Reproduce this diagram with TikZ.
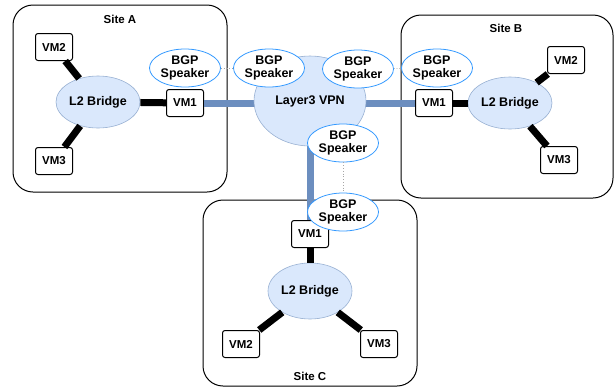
\documentclass[tikz,border=0pt]{standalone}
\usepackage{fontspec}
\setmainfont{Liberation Sans}
\usetikzlibrary{shapes.geometric}
\definecolor{bfill}{HTML}{DAE8FC}
\definecolor{bline}{HTML}{6C8EBF}
\definecolor{sline}{HTML}{3399FF}
\tikzset{
  site/.style={draw=black, line width=1pt, rounded corners=20pt},
  vm/.style={draw=black, fill=white, line width=1pt, rounded corners=2.5pt, minimum width=37pt, minimum height=27pt, inner sep=0pt, font=\bfseries\fontsize{11.5}{13}\selectfont},
  bridge/.style={ellipse, draw=bline!70, fill=bfill, line width=0.6pt, minimum width=84pt, minimum height=52pt, inner sep=0pt, font=\bfseries\fontsize{12.5}{14}\selectfont},
  vpn/.style={ellipse, draw=bline!70, fill=bfill, line width=0.6pt, minimum width=112pt, minimum height=90pt, inner sep=0pt, font=\bfseries\fontsize{12.5}{14}\selectfont},
  bgp/.style={ellipse, draw=sline, fill=white, line width=0.8pt, minimum width=71pt, minimum height=38pt, inner sep=0pt, align=center, font=\bfseries\fontsize{12.5}{13.5}\selectfont},
  lab/.style={font=\bfseries\fontsize{11.5}{13}\selectfont},
  blackline/.style={line width=7pt, draw=black},
  wan/.style={line width=7pt, draw=bline},
  peer/.style={draw=gray!70, line width=0.8pt, dotted},
}
\begin{document}
\begin{tikzpicture}[x=1pt, y=-1pt]
\useasboundingbox (0,0) rectangle (616,389);
% sites
\draw[site] (13,5) rectangle (227,192);
\node[lab] (sa) at (120,19) {Site A};
\draw[site] (401,15) rectangle (613,198);
\node[lab] (sb) at (506,28) {Site B};
\draw[site] (203,200) rectangle (417,386);
\node[lab] (sc) at (310,376) {Site C};
% site A
\node[vm] (a2) at (54,47) {VM2};
\node[vm] (a3) at (54,161) {VM3};
\node[vm] (a1) at (185,103) {VM1};
\node[bridge] (ab) at (98,102) {L2 Bridge};
\draw[blackline] (a2) -- (ab);
\draw[blackline] (a3) -- (ab);
\draw[blackline] (ab) -- (a1);
% site B
\node[vm] (b1) at (434,103) {VM1};
\node[vm] (b2) at (566,60) {VM2};
\node[vm] (b3) at (559,160) {VM3};
\node[bridge] (bb) at (510,103) {L2 Bridge};
\draw[blackline] (b2) -- (bb);
\draw[blackline] (b3) -- (bb);
\draw[blackline] (bb) -- (b1);
% site C
\node[vm] (c1) at (310,234) {VM1};
\node[vm] (c2) at (241,344) {VM2};
\node[vm] (c3) at (379,344) {VM3};
\node[bridge, minimum height=56pt] (cb) at (310,291) {L2 Bridge};
\draw[blackline] (c2) -- (cb);
\draw[blackline] (c3) -- (cb);
\draw[blackline] (cb) -- (c1);
% VPN
\coordinate (vl) at (256,103);
\coordinate (vr) at (364,103);
\coordinate (vb) at (310,144);
\draw[wan] (a1.east) -- (vl);
\draw[wan] (vr) -- (b1.west);
\draw[wan] (vb) -- (c1.north);
\node[vpn] (vpn) at (310,101) {Layer3 VPN};
% BGP speakers
\node[bgp] (sA) at (185,68) {BGP\\Speaker};
\node[bgp] (sV1) at (269,68) {BGP\\Speaker};
\node[bgp] (sV2) at (358,69) {BGP\\Speaker};
\node[bgp] (sB) at (437,68) {BGP\\Speaker};
\node[bgp] (sV3) at (343,143) {BGP\\Speaker};
\node[bgp] (sC) at (343,212) {BGP\\Speaker};
\draw[peer] (sA) -- (sV1);
\draw[peer] (sV2) -- (sB);
\draw[peer] (sV3) -- (sC);
\end{tikzpicture}
\end{document}
